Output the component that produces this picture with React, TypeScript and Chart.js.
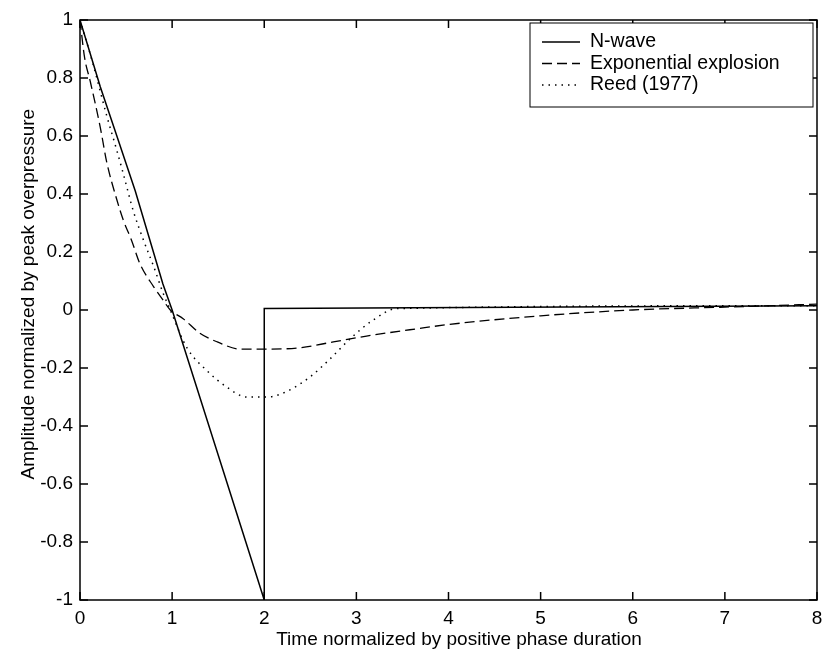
import { useEffect, useRef } from "react";
import { Chart, registerables } from "chart.js";
Chart.register(...registerables);

const xTickValues = [0, 1, 2, 3, 4, 5, 6, 7, 8];
const yTickValues = [-1, -0.8, -0.6, -0.4, -0.2, 0, 0.2, 0.4, 0.6, 0.8, 1];
const seriesLabels = ["N-wave", "Exponential explosion", "Reed (1977)"];
const xTitle = "Time normalized by positive phase duration";
const yTitle = "Amplitude normalized by peak overpressure";

const nwaveX = [0, 0.22, 0.4, 0.6, 0.9, 1.0, 1.2, 1.5, 1.8, 2.0, 2.0, 2.0, 8];
const nwaveY = [1, 0.77, 0.6, 0.41, 0.09, 0.0, -0.2, -0.5, -0.8, -1.0, -0.5, 0.005, 0.015];

const expX = [0, 0.05, 0.11, 0.22, 0.29, 0.4, 0.47, 0.56, 0.65, 0.8, 0.9, 0.98, 1.12, 1.3, 1.49, 1.74, 1.99, 2.39, 2.75, 3.11, 3.65, 4, 5, 6, 7, 8];
const expY = [1, 0.87, 0.79, 0.63, 0.51, 0.38, 0.31, 0.24, 0.16, 0.08, 0.035, 0, -0.03, -0.08, -0.11, -0.135, -0.135, -0.13, -0.11, -0.09, -0.065, -0.05, -0.02, 0, 0.01, 0.02];

const reedX = [0, 0.14, 0.29, 0.4, 0.47, 0.58, 0.69, 0.8, 0.9, 0.98, 1.16, 1.38, 1.59, 1.81, 2.03, 2.25, 2.5, 2.71, 2.93, 3.18, 3.44, 8];
const reedY = [1, 0.85, 0.67, 0.55, 0.47, 0.34, 0.24, 0.15, 0.06, 0, -0.13, -0.21, -0.265, -0.3, -0.3, -0.28, -0.23, -0.17, -0.1, -0.035, 0.005, 0.015];

const FONT = "'Liberation Sans', Arial, sans-serif";

const toPoints = (xs: number[], ys: number[]) => xs.map((x, i) => ({ x, y: ys[i] }));

const framePlugin = {
  id: "matlabFrame",
  afterDraw(chart: any) {
    const { ctx, chartArea } = chart;
    const { left, right, top, bottom } = chartArea;
    const xs = chart.scales.x;
    const ys = chart.scales.y;
    ctx.save();
    ctx.strokeStyle = "#000";
    ctx.lineWidth = 1.5;
    ctx.setLineDash([]);
    ctx.strokeRect(left, top, right - left, bottom - top);
    const L = 8;
    ctx.beginPath();
    xTickValues.forEach((v) => {
      const px = xs.getPixelForValue(v);
      ctx.moveTo(px, bottom);
      ctx.lineTo(px, bottom - L);
      ctx.moveTo(px, top);
      ctx.lineTo(px, top + L);
    });
    yTickValues.forEach((v) => {
      const py = ys.getPixelForValue(v);
      ctx.moveTo(left, py);
      ctx.lineTo(left + L, py);
      ctx.moveTo(right, py);
      ctx.lineTo(right - L, py);
    });
    ctx.stroke();

    // legend
    const bw = 283, bh = 84;
    const bx = right - 4 - bw;
    const by = top + 3;
    ctx.fillStyle = "#fff";
    ctx.fillRect(bx, by, bw, bh);
    ctx.lineWidth = 1;
    ctx.strokeRect(bx, by, bw, bh);
    ctx.font = `19.5px ${FONT}`;
    ctx.textBaseline = "middle";
    ctx.textAlign = "left";
    chart.data.datasets.forEach((ds: any, i: number) => {
      const cy = by + 19 + i * 21.5;
      ctx.beginPath();
      ctx.strokeStyle = ds.borderColor;
      ctx.lineWidth = ds.borderWidth;
      ctx.setLineDash(ds.borderDash || []);
      ctx.moveTo(bx + 12, cy);
      ctx.lineTo(bx + 50, cy);
      ctx.stroke();
      ctx.setLineDash([]);
      ctx.fillStyle = "#000";
      ctx.fillText(ds.label, bx + 60, cy);
    });
    ctx.restore();
  },
};

export default function App() {
  const ref = useRef<HTMLCanvasElement | null>(null);
  useEffect(() => {
    if (!ref.current) return;
    const chart = new Chart(ref.current, {
      type: "line",
      data: {
        datasets: [
          {
            label: seriesLabels[0],
            data: toPoints(nwaveX, nwaveY),
            borderColor: "#000",
            borderWidth: 1.5,
            pointRadius: 0,
            tension: 0,
          },
          {
            label: seriesLabels[1],
            data: toPoints(expX, expY),
            borderColor: "#000",
            borderWidth: 1.3,
            borderDash: [10, 5],
            pointRadius: 0,
            cubicInterpolationMode: "monotone",
          },
          {
            label: seriesLabels[2],
            data: toPoints(reedX, reedY),
            borderColor: "#000",
            borderWidth: 1.5,
            borderDash: [1.5, 5],
            pointRadius: 0,
            cubicInterpolationMode: "monotone",
          },
        ] as any,
      },
      options: {
        animation: false,
        responsive: false,
        maintainAspectRatio: false,
        parsing: true,
        layout: { padding: { top: 20, right: 6, left: 0, bottom: 0 } },
        plugins: { legend: { display: false }, tooltip: { enabled: false } },
        scales: {
          x: {
            type: "linear",
            min: 0,
            max: 8,
            grid: { display: false, drawTicks: false },
            border: { display: false },
            afterBuildTicks: (s: any) => {
              s.ticks = xTickValues.map((v) => ({ value: v }));
            },
            afterFit: (s: any) => {
              s.height = 54;
              s.paddingLeft = 0;
              s.paddingRight = 0;
            },
            ticks: {
              color: "#000",
              font: { family: FONT, size: 19 },
              padding: 7,
              maxRotation: 0,
              autoSkip: false,
              callback: (v: any) => String(v),
            },
            title: {
              display: true,
              text: "    " + xTitle,
              color: "#000",
              font: { family: FONT, size: 19 },
              padding: { top: 2, bottom: 3 },
            },
          },
          y: {
            type: "linear",
            min: -1,
            max: 1,
            grid: { display: false, drawTicks: false },
            border: { display: false },
            afterBuildTicks: (s: any) => {
              s.ticks = yTickValues.map((v) => ({ value: v }));
            },
            afterFit: (s: any) => {
              s.width = 80;
              s.paddingTop = 0;
              s.paddingBottom = 0;
            },
            ticks: {
              color: "#000",
              font: { family: FONT, size: 19 },
              padding: 7,
              autoSkip: false,
              callback: (v: any) => String(Number(Number(v).toFixed(1))),
            },
            title: {
              display: true,
              text: "      " + yTitle,
              color: "#000",
              font: { family: FONT, size: 19 },
              padding: { top: 17, bottom: 0 },
            },
          },
        },
      },
      plugins: [framePlugin],
    });
    return () => chart.destroy();
  }, []);
  return (
    <div style={{ position: "fixed", left: 0, top: 0, width: 823, height: 654, background: "#fff" }}>
      <canvas ref={ref} width={823} height={654} style={{ display: "block", width: 823, height: 654 }} />
    </div>
  );
}
